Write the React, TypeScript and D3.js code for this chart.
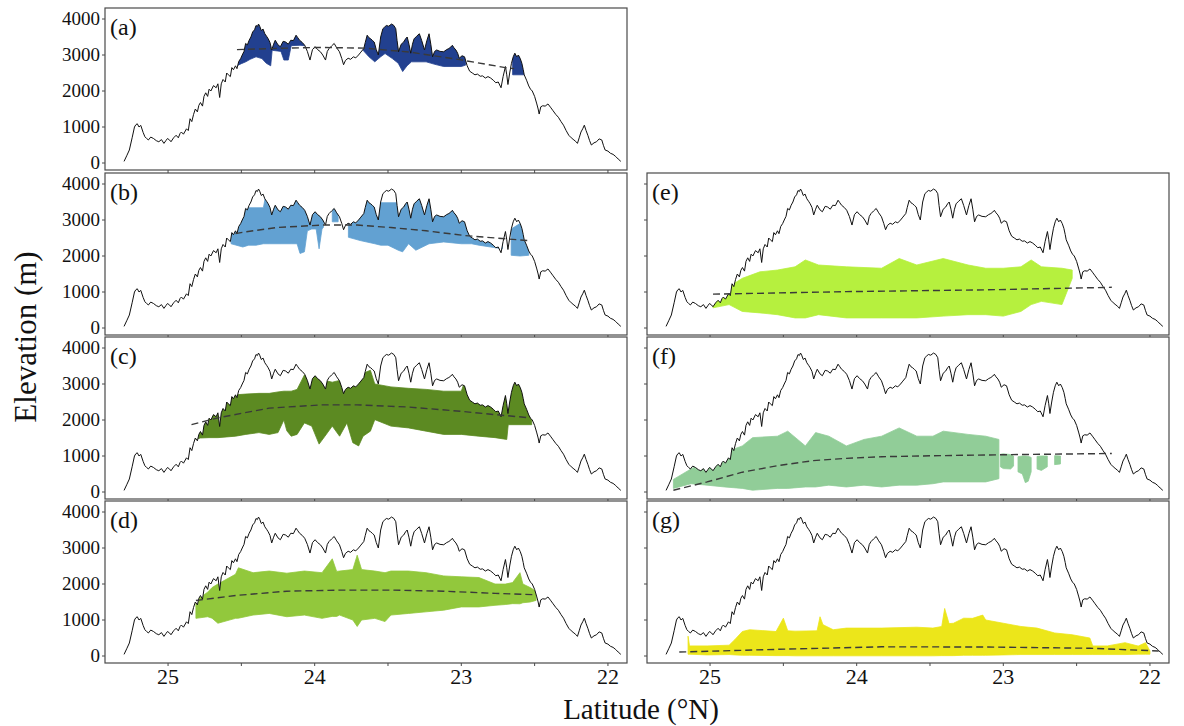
import React from 'react';
import * as d3 from 'd3';

const W = 1184;
const H = 726;

// Elevation profile along the transect: [latitude °N, elevation m]
const profile: [number, number][] = [
  [25.300, 45], [25.282, 200], [25.264, 360], [25.245, 700], [25.229, 1000], [25.220, 1060], [25.210, 1090],
  [25.198, 1000], [25.186, 1045], [25.170, 850], [25.158, 730], [25.146, 680], [25.134, 640], [25.118, 720],
  [25.099, 680], [25.080, 620], [25.063, 590], [25.045, 650], [25.028, 545], [25.015, 620], [25.004, 680],
  [24.990, 640], [24.980, 590], [24.962, 700], [24.945, 770], [24.930, 700], [24.918, 820], [24.909, 860],
  [24.895, 800], [24.874, 950], [24.862, 900], [24.850, 1230], [24.838, 1150], [24.826, 1350], [24.814, 1500],
  [24.800, 1420], [24.790, 1600], [24.779, 1680], [24.765, 1580], [24.755, 1850], [24.743, 1950], [24.730, 1850],
  [24.720, 2050], [24.708, 2000], [24.690, 2150], [24.672, 2090], [24.660, 2200], [24.648, 1820], [24.637, 2200],
  [24.625, 2320], [24.610, 2250], [24.600, 2500], [24.589, 2450], [24.575, 2400], [24.565, 2650], [24.554, 2590],
  [24.540, 2700], [24.530, 2620], [24.518, 2820], [24.505, 2900], [24.494, 3000], [24.482, 3100], [24.471, 3320],
  [24.459, 3280], [24.447, 3410], [24.435, 3500], [24.423, 3640], [24.410, 3700], [24.400, 3820], [24.391, 3790],
  [24.383, 3860], [24.375, 3800], [24.364, 3680], [24.352, 3720], [24.340, 3590], [24.328, 3520], [24.317, 3450],
  [24.305, 3350], [24.293, 3140], [24.280, 3300], [24.269, 3410], [24.250, 3280], [24.234, 3230], [24.215, 3380],
  [24.198, 3360], [24.180, 3300], [24.163, 3410], [24.145, 3400], [24.127, 3550], [24.115, 3480], [24.103, 3410],
  [24.085, 3350], [24.068, 3270], [24.050, 3100], [24.032, 2860], [24.015, 3150], [23.997, 3230], [23.980, 3150],
  [23.961, 3090], [23.945, 3000], [23.926, 2860], [23.914, 3100], [23.902, 3180], [23.885, 3250], [23.867, 3320],
  [23.850, 3200], [23.831, 3090], [23.815, 2900], [23.803, 2730], [23.790, 2850], [23.772, 2910], [23.755, 2880],
  [23.736, 2950], [23.720, 2920], [23.701, 3000], [23.685, 3080], [23.665, 3180], [23.655, 3350], [23.642, 3550],
  [23.630, 3480], [23.618, 3450], [23.605, 3400], [23.594, 3360], [23.580, 3150], [23.566, 3000], [23.550, 3500],
  [23.535, 3730], [23.522, 3780], [23.511, 3820], [23.495, 3800], [23.476, 3860], [23.460, 3820], [23.447, 3730],
  [23.438, 3400], [23.428, 3090], [23.410, 3300], [23.393, 3360], [23.380, 3450], [23.369, 3500], [23.357, 3300],
  [23.345, 3050], [23.333, 3300], [23.322, 3450], [23.305, 3520], [23.286, 3590], [23.270, 3400], [23.251, 3140],
  [23.235, 3400], [23.220, 3590], [23.208, 3300], [23.196, 2950], [23.182, 3100], [23.168, 3140], [23.145, 3100],
  [23.120, 3090], [23.100, 3150], [23.085, 3180], [23.072, 3220], [23.061, 3270], [23.050, 3200], [23.037, 3140],
  [23.025, 3050], [23.014, 2910], [22.995, 2980], [22.978, 2950], [22.960, 2700], [22.943, 2550], [22.925, 2500],
  [22.907, 2450], [22.890, 2470], [22.871, 2410], [22.855, 2420], [22.836, 2360], [22.818, 2400], [22.800, 2360],
  [22.782, 2300], [22.765, 2230], [22.748, 2250], [22.729, 2090], [22.715, 2400], [22.699, 2680], [22.690, 2450],
  [22.682, 2180], [22.670, 2500], [22.658, 2770], [22.646, 2950], [22.635, 3050], [22.622, 2950], [22.611, 3000],
  [22.598, 2900], [22.587, 2770], [22.578, 2600], [22.571, 2450], [22.555, 2300], [22.540, 2140], [22.528, 2050],
  [22.516, 2000], [22.500, 1850], [22.485, 1640], [22.476, 1500], [22.469, 1360], [22.458, 1560], [22.445, 1590],
  [22.428, 1580], [22.409, 1640], [22.392, 1550], [22.374, 1450], [22.356, 1350], [22.338, 1270], [22.320, 1150],
  [22.303, 1050], [22.285, 900], [22.267, 770], [22.250, 700], [22.232, 640], [22.220, 600], [22.208, 545],
  [22.196, 700], [22.184, 860], [22.172, 950], [22.161, 1050], [22.149, 900], [22.137, 770], [22.125, 620],
  [22.113, 500], [22.095, 560], [22.078, 590], [22.060, 670], [22.042, 640], [22.030, 480], [22.019, 360],
  [22.000, 330], [21.983, 270], [21.965, 240], [21.947, 180], [21.930, 110], [21.912, 45],
];

// Vegetation belts: segments of [latitude, lower elevation, upper elevation]
type Seg = [number, number, number][];

const bandA: Seg[] = [
  [[24.53, 2700, 4200], [24.50, 2760, 4200], [24.47, 2810, 4200], [24.44, 2880, 4200], [24.40, 2950, 4200],
   [24.36, 2900, 4200], [24.33, 2770, 4200], [24.30, 2700, 4200], [24.29, 3130, 4200], [24.23, 3100, 4200],
   [24.21, 2860, 4200], [24.18, 2860, 4200], [24.16, 3260, 4200], [24.10, 3270, 4200], [24.05, 3250, 4200]],
  [[23.67, 3130, 4200], [23.63, 2950, 4200], [23.59, 2810, 4200], [23.55, 2950, 4200], [23.52, 3040, 4200],
   [23.47, 2900, 4200], [23.43, 2770, 4200], [23.40, 2540, 4200], [23.37, 2700, 4200], [23.34, 2810, 4200],
   [23.24, 2810, 4200], [23.18, 2740, 4200], [23.12, 2680, 4200], [23.00, 2680, 4200], [22.97, 2720, 4200]],
  [[22.65, 2450, 4200], [22.55, 2450, 4200]],
];

const bandB: Seg[] = [
  [[24.57, 2340, 4200], [24.49, 2250, 4200], [24.45, 2300, 3340], [24.40, 2300, 3340], [24.35, 2340, 3340],
   [24.31, 2340, 4200], [24.23, 2340, 4200], [24.16, 2340, 4200], [24.12, 2340, 4200], [24.10, 2070, 4200],
   [24.07, 2115, 4200], [24.05, 2700, 4200], [24.02, 2750, 3300], [23.99, 2750, 3300], [23.97, 2200, 3300],
   [23.95, 2750, 3300], [23.94, 2800, 3200]],
  [[23.88, 2950, 4200], [23.84, 2950, 4200]],
  [[23.77, 2520, 4200], [23.69, 2430, 4200], [23.59, 2340, 4200], [23.55, 2300, 3480], [23.50, 2300, 3480],
   [23.43, 2160, 3480], [23.40, 2115, 4200], [23.36, 2340, 4200], [23.31, 2160, 4200], [23.22, 2340, 4200],
   [23.12, 2390, 4200], [23.00, 2340, 4200], [22.93, 2340, 4200], [22.88, 2300, 4200], [22.80, 2250, 4200],
   [22.72, 2200, 4200]],
  [[22.66, 2020, 2750], [22.60, 2000, 2900], [22.54, 2020, 4200]],
];

const bandC: Seg[] = [
  [[24.81, 1460, 1830], [24.78, 1500, 1950], [24.72, 1510, 2300], [24.66, 1510, 2650], [24.54, 1550, 2700],
   [24.47, 1600, 2720], [24.38, 1650, 2740], [24.31, 1600, 2740], [24.25, 1650, 2780], [24.21, 2000, 2800],
   [24.19, 1700, 2800], [24.16, 1550, 2800], [24.12, 1600, 2850], [24.07, 1920, 3250], [24.02, 1830, 3300],
   [23.97, 1330, 3150], [23.93, 1550, 3100], [23.88, 1830, 3050], [23.83, 1550, 3100], [23.78, 1920, 3150],
   [23.74, 1370, 3200], [23.70, 1280, 3250], [23.67, 1550, 3300], [23.62, 1690, 3380], [23.59, 2010, 3000],
   [23.48, 1830, 2920], [23.36, 1780, 2880], [23.24, 1690, 2850], [23.12, 1600, 2800], [23.00, 1600, 2800],
   [22.88, 1550, 4200], [22.77, 1510, 4200], [22.69, 1460, 4200], [22.68, 1870, 4200], [22.52, 1870, 4200]],
];

const bandD: Seg[] = [
  [[24.81, 1046, 1544], [24.73, 1091, 1771], [24.70, 1050, 1900], [24.66, 910, 2000], [24.54, 1046, 2270],
   [24.52, 1050, 2450], [24.42, 1137, 2314], [24.31, 1182, 2360], [24.19, 1091, 2300], [24.07, 1137, 2360],
   [23.95, 1046, 2314], [23.88, 1100, 2700], [23.85, 1100, 2350], [23.83, 1137, 2360], [23.74, 1000, 2400],
   [23.71, 820, 2800], [23.68, 1000, 2400], [23.59, 1046, 2360], [23.52, 956, 2314], [23.48, 1137, 2360],
   [23.36, 1182, 2360], [23.24, 1227, 2314], [23.12, 1273, 2224], [23.00, 1363, 2200], [22.88, 1363, 2180],
   [22.77, 1408, 2000], [22.70, 1430, 1997], [22.65, 1454, 2040], [22.60, 1450, 2314], [22.58, 1480, 2000],
   [22.53, 1500, 1900], [22.49, 1544, 1800]],
];

const bandE: Seg[] = [
  [[24.98, 560, 920], [24.87, 650, 1150], [24.78, 460, 1380], [24.66, 420, 1560], [24.54, 370, 1610],
   [24.42, 280, 1700], [24.35, 280, 1890], [24.26, 370, 1750], [24.07, 280, 1700], [23.83, 280, 1660],
   [23.71, 280, 1930], [23.59, 280, 1750], [23.41, 330, 1930], [23.24, 370, 1750], [23.12, 370, 1660],
   [23.00, 330, 1660], [22.88, 460, 1700], [22.81, 650, 1890], [22.74, 740, 1700], [22.60, 650, 1660],
   [22.53, 1380, 1610]],
];

const bandF: Seg[] = [
  [[25.25, 100, 350], [25.13, 230, 640], [25.02, 190, 870], [24.90, 140, 1100], [24.78, 100, 1280],
   [24.71, 50, 1510], [24.54, 100, 1550], [24.47, 100, 1690], [24.35, 140, 1280], [24.28, 140, 1650],
   [24.19, 190, 1550], [24.07, 140, 1280], [23.95, 190, 1460], [23.83, 140, 1550], [23.71, 190, 1780],
   [23.59, 190, 1550], [23.48, 230, 1550], [23.41, 280, 1690], [23.24, 280, 1600], [23.12, 280, 1550],
   [23.03, 370, 1460]],
  [[23.02, 700, 1050], [23.00, 650, 1060], [22.95, 640, 1040], [22.93, 720, 1000]],
  [[22.90, 560, 980], [22.87, 500, 1000], [22.85, 260, 1000], [22.83, 300, 990], [22.81, 560, 960]],
  [[22.77, 640, 990], [22.74, 600, 1000], [22.70, 700, 1000]],
  [[22.65, 760, 1010], [22.61, 780, 1000]],
];

const bandG: Seg[] = [
  [[25.15, 50, 550], [25.14, 50, 280], [25.02, 30, 280], [24.87, 40, 300], [24.83, 30, 460],
   [24.78, 20, 680], [24.73, 20, 730], [24.55, 10, 680], [24.50, 10, 1050], [24.47, 10, 700],
   [24.42, 5, 690], [24.27, 5, 700], [24.25, 5, 1090], [24.23, 5, 870], [24.16, 5, 730],
   [24.07, 5, 775], [23.83, 5, 775], [23.59, 5, 800], [23.48, 5, 775], [23.42, 10, 820],
   [23.40, 10, 1320], [23.37, 10, 900], [23.34, 10, 910], [23.27, 20, 1050], [23.21, 20, 1046],
   [23.14, 20, 1137], [23.12, 20, 1000], [23.00, 30, 910], [22.88, 40, 820], [22.77, 40, 775],
   [22.65, 40, 640], [22.53, 40, 590], [22.41, 40, 500], [22.39, 40, 280], [22.29, 40, 280],
   [22.17, 40, 370], [22.08, 50, 276], [22.03, 50, 370], [22.00, 50, 140]],
];

// Fitted trend lines (dashed): [latitude, elevation]
const trendA: [number, number][] = [[24.53, 3150], [24.20, 3190], [23.97, 3210], [23.66, 3190], [23.35, 3080], [23.01, 2870], [22.70, 2650], [22.64, 2620]];
const trendB: [number, number][] = [[24.54, 2620], [24.49, 2660], [24.26, 2790], [23.95, 2860], [23.71, 2860], [23.48, 2790], [23.24, 2700], [22.98, 2570], [22.55, 2430]];
const trendC: [number, number][] = [[24.84, 1870], [24.66, 2060], [24.31, 2330], [23.95, 2420], [23.71, 2420], [23.36, 2360], [23.00, 2240], [22.77, 2150], [22.53, 2060]];
const trendD: [number, number][] = [[24.81, 1540], [24.54, 1680], [24.19, 1800], [23.83, 1830], [23.48, 1830], [23.12, 1800], [22.77, 1740], [22.49, 1700]];
const trendE: [number, number][] = [[24.98, 940], [24.07, 1010], [23.12, 1060], [22.26, 1130]];
const trendF: [number, number][] = [[25.25, 50], [25.02, 280], [24.78, 550], [24.54, 730], [24.30, 870], [24.07, 935], [23.83, 980], [23.48, 1007], [23.00, 1035], [22.26, 1070]];
const trendG: [number, number][] = [[25.21, 110], [24.54, 185], [23.83, 255], [23.12, 250], [22.41, 215], [21.94, 140]];

const yTickValues = [0, 1000, 2000, 3000, 4000];
const xTickLabels = [25, 24, 23, 22];
const xMinorTicks = [25, 24.5, 24, 23.5, 23, 22.5, 22];
const panelLetters = ['a', 'b', 'c', 'd', 'e', 'f', 'g'];

const panelDefs = [
  { col: 0, row: 0, color: '#22408f', band: bandA, trend: trendA },
  { col: 0, row: 1, color: '#62a1d2', band: bandB, trend: trendB },
  { col: 0, row: 2, color: '#5c8a22', band: bandC, trend: trendC },
  { col: 0, row: 3, color: '#92c83c', band: bandD, trend: trendD },
  { col: 1, row: 1, color: '#b6f03e', band: bandE, trend: trendE },
  { col: 1, row: 2, color: '#91cd98', band: bandF, trend: trendF },
  { col: 1, row: 3, color: '#ece61a', band: bandG, trend: trendG },
];

const colX = [105, 647];
const rowY = [8, 173, 337, 501];
const PW = 522;
const PH = 162;
const FONT = '"Liberation Serif", "Times New Roman", "DejaVu Serif", serif';

function Panel({ idx }: { idx: number }) {
  const p = panelDefs[idx];
  const x0 = colX[p.col];
  const y0 = rowY[p.row];
  const x = d3.scaleLinear().domain([25.43, 21.87]).range([x0, x0 + PW]);
  const y = d3.scaleLinear().domain([0, 4000]).range([y0 + PH - 7, y0 + 11]);
  const line = d3.line<[number, number]>().x(d => x(d[0])).y(d => y(d[1]));
  const clipArea = d3.area<[number, number]>().x(d => x(d[0])).y0(y(-300)).y1(d => y(d[1]));
  const band = d3.area<[number, number, number]>().x(d => x(d[0])).y0(d => y(d[1])).y1(d => y(d[2]));
  const clipId = `clip-${panelLetters[idx]}`;
  const boxId = `box-${panelLetters[idx]}`;
  const bottom = y0 + PH;
  return (
    <g>
      <defs>
        <clipPath id={clipId}>
          <path d={clipArea(profile) || ''} />
        </clipPath>
        <clipPath id={boxId}>
          <rect x={x0} y={y0} width={PW} height={PH} />
        </clipPath>
      </defs>
      <rect x={x0} y={y0} width={PW} height={PH} fill="#fff" />
      <g clipPath={`url(#${boxId})`}>
        <g clipPath={`url(#${clipId})`}>
          {p.band.map((seg, i) => (
            <path key={i} d={band(seg) || ''} fill={p.color} stroke={p.color} strokeWidth={0.8} />
          ))}
        </g>
        <path d={line(profile) || ''} fill="none" stroke="#111" strokeWidth={1} strokeLinejoin="round" />
        <path d={line(p.trend) || ''} fill="none" stroke="#3a3a3a" strokeWidth={1.4} strokeDasharray="7,4" />
      </g>
      <rect x={x0} y={y0} width={PW} height={PH} fill="none" stroke="#4a4a4a" strokeWidth={1.2} />
      {yTickValues.map(v => (
        <line key={v} x1={x0 - 3} x2={x0} y1={y(v)} y2={y(v)} stroke="#4a4a4a" strokeWidth={1} />
      ))}
      {xMinorTicks.map(v => (
        <line key={v} x1={x(v)} x2={x(v)} y1={bottom} y2={bottom + 3} stroke="#4a4a4a" strokeWidth={1} />
      ))}
      {p.col === 0 && yTickValues.map(v => (
        <text key={v} x={x0 - 5} y={y(v)} dy="0.33em" textAnchor="end" fontFamily={FONT} fontSize={19} fill="#111">{v}</text>
      ))}
      {p.row === 3 && xTickLabels.map(v => (
        <text key={v} x={x(v)} y={bottom + 21} textAnchor="middle" fontFamily={FONT} fontSize={22} fill="#111">{v}</text>
      ))}
      <text x={x0 + 5} y={y0 + 27} fontFamily={FONT} fontSize={24} fill="#111">({panelLetters[idx]})</text>
    </g>
  );
}

export default function App() {
  return (
    <svg width={W} height={H} viewBox={`0 0 ${W} ${H}`} style={{ display: 'block', position: 'absolute', left: 0, top: 0, background: '#fff' }}>
      <rect x={0} y={0} width={W} height={H} fill="#fff" />
      {panelDefs.map((_, i) => <Panel key={i} idx={i} />)}
      <text x={0} y={0} transform={`translate(36, 337) rotate(-90)`} textAnchor="middle" fontFamily={FONT} fontSize={31} fill="#111">Elevation (m)</text>
      <text x={641} y={719} textAnchor="middle" fontFamily={FONT} fontSize={29} fill="#111">Latitude (°N)</text>
    </svg>
  );
}
